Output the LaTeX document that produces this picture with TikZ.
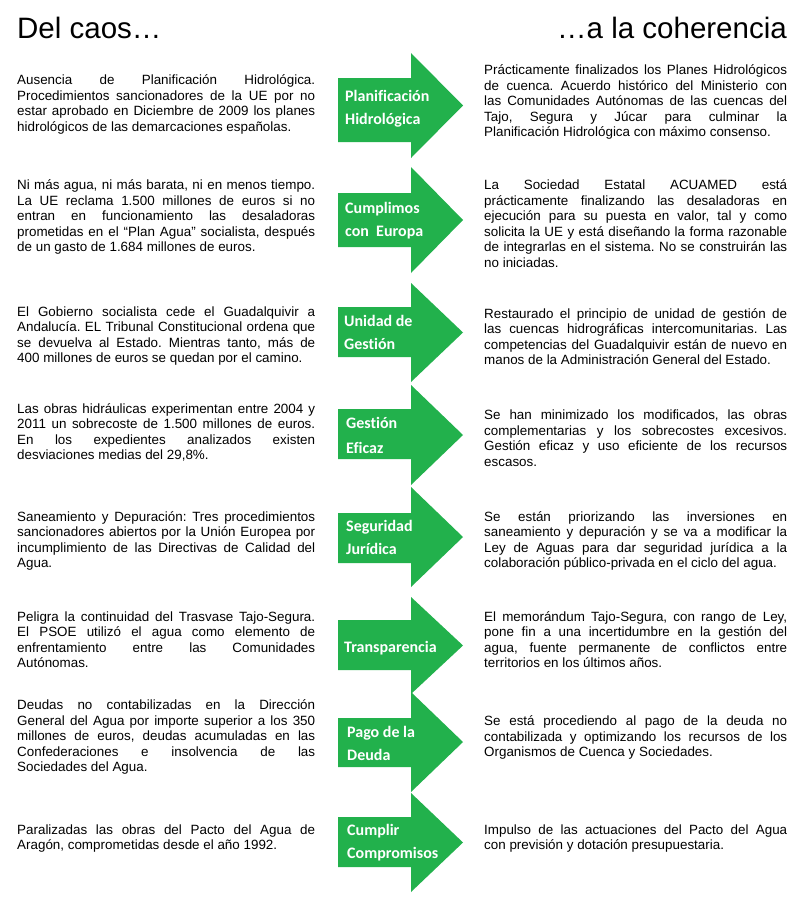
\documentclass[tikz,border=0pt]{standalone}
\usepackage{fontspec}
\setmainfont{Liberation Sans}
\newfontfamily\labfont{Carlito}[Ligatures=NoCommon]
\definecolor{arrowgreen}{RGB}{34,177,76}
\frenchspacing
\newlength\cw
\newcommand\jline[1]{\hbox to\cw{#1}}
\newcommand\lastline[1]{\hbox to\cw{#1\hfil}}
\newcommand\colL[1]{\setlength\cw{298pt}\vtop{#1}}
\newcommand\colR[1]{\setlength\cw{303pt}\vtop{#1}}
\newcommand\garrow[4]{\fill[arrowgreen] (338,#1) -- (411,#1) -- (411,#3) -- (463,{(#3+#4)/2}) -- (411,#4) -- (411,#2) -- (338,#2) -- cycle;}
\tikzset{
  bodytext/.style={anchor=base west, inner sep=0pt, font=\frenchspacing\fontsize{13.4}{15.5}\selectfont},
  arrowlabel/.style={anchor=west, inner sep=0pt, align=left, text=white, font=\labfont\bfseries\fontsize{16}{23}\selectfont},
  titletext/.style={inner sep=0pt, font=\fontsize{29.5}{34}\selectfont},
}
\begin{document}
\begin{tikzpicture}[x=1pt,y=-1pt]
\fill[white] (0,0) rectangle (801,902);
\useasboundingbox (0,0) rectangle (801,902);

\node[titletext, anchor=base west] (t1) at (17,38) {Del caos…};
\node[titletext, anchor=base east] (t2) at (787,38) {…a la coherencia};

% arrows: body top, body bottom, head top, head bottom
\garrow{78}{142}{53}{158}
\garrow{193}{247}{167}{273}
\garrow{307}{357}{283}{382}
\garrow{409}{459}{385}{485}
\garrow{513}{563}{487}{587}
\garrow{620}{670}{597}{694}
\garrow{718}{767}{692}{792}
\garrow{817}{867}{793}{892}

\node[arrowlabel] (a1) at (345,108.3) {Planificación\\Hidrológica};
\node[arrowlabel] (a2) at (345,220.5) {Cumplimos\\con~ Europa};
\node[arrowlabel] (a3) at (344,332.8) {Unidad de\\Gestión};
\node[arrowlabel] (a4) at (346,435.8) {Gestión\\[2pt]Eficaz};
\node[arrowlabel] (a5) at (346,537.7) {Seguridad\\Jurídica};
\node[arrowlabel] (a6) at (344,648.3) {Transparencia};
\node[arrowlabel] (a7) at (347,743.8) {Pago de la\\Deuda};
\node[arrowlabel] (a8) at (347,842.8) {Cumplir\\Compromisos};

% left column
\node[bodytext] (l1) at (17,84.5) {\colL{%
\jline{Ausencia de Planificación Hidrológica.}
\jline{Procedimientos sancionadores de la UE por no}
\jline{estar aprobado en Diciembre de 2009 los planes}
\lastline{hidrológicos de las demarcaciones españolas.}}};
\node[bodytext] (l2) at (17,189.5) {\colL{%
\jline{Ni más agua, ni más barata, ni en menos tiempo.}
\jline{La UE reclama 1.500 millones de euros si no}
\jline{entran en funcionamiento las desaladoras}
\jline{prometidas en el “Plan Agua” socialista, después}
\lastline{de un gasto de 1.684 millones de euros.}}};
\node[bodytext] (l3) at (17,316) {\colL{%
\jline{El Gobierno socialista cede el Guadalquivir a}
\jline{Andalucía. EL Tribunal Constitucional ordena que}
\jline{se devuelva al Estado. Mientras tanto, más de}
\lastline{400 millones de euros se quedan por el camino.}}};
\node[bodytext] (l4) at (17,413) {\colL{%
\jline{Las obras hidráulicas experimentan entre 2004 y}
\jline{2011 un sobrecoste de 1.500 millones de euros.}
\jline{En los expedientes analizados existen}
\lastline{desviaciones medias del 29,8\%.}}};
\node[bodytext] (l5) at (17,521) {\colL{%
\jline{Saneamiento y Depuración: Tres procedimientos}
\jline{sancionadores abiertos por la Unión Europea por}
\jline{incumplimiento de las Directivas de Calidad del}
\lastline{Agua.}}};
\node[bodytext] (l6) at (17,621) {\colL{%
\jline{Peligra la continuidad del Trasvase Tajo-Segura.}
\jline{El PSOE utilizó el agua como elemento de}
\jline{enfrentamiento entre las Comunidades}
\lastline{Autónomas.}}};
\node[bodytext] (l7) at (17,709.5) {\colL{%
\jline{Deudas no contabilizadas en la Dirección}
\jline{General del Agua por importe superior a los 350}
\jline{millones de euros, deudas acumuladas en las}
\jline{Confederaciones e insolvencia de las}
\lastline{Sociedades del Agua.}}};
\node[bodytext] (l8) at (17,834) {\colL{%
\jline{Paralizadas las obras del Pacto del Agua de}
\lastline{Aragón, comprometidas desde el año 1992.}}};

% right column
\node[bodytext] (r1) at (484,74.5) {\colR{%
\jline{Prácticamente finalizados los Planes Hidrológicos}
\jline{de cuenca. Acuerdo histórico del Ministerio con}
\jline{las Comunidades Autónomas de las cuencas del}
\jline{Tajo, Segura y Júcar para culminar la}
\lastline{Planificación Hidrológica con máximo consenso.}}};
\node[bodytext] (r2) at (484,189.5) {\colR{%
\jline{La Sociedad Estatal ACUAMED está}
\jline{prácticamente finalizando las desaladoras en}
\jline{ejecución para su puesta en valor, tal y como}
\jline{solicita la UE y está diseñando la forma razonable}
\jline{de integrarlas en el sistema. No se construirán las}
\lastline{no iniciadas.}}};
\node[bodytext] (r3) at (484,318) {\colR{%
\jline{Restaurado el principio de unidad de gestión de}
\jline{las cuencas hidrográficas intercomunitarias. Las}
\jline{competencias del Guadalquivir están de nuevo en}
\lastline{manos de la Administración General del Estado.}}};
\node[bodytext] (r4) at (484,419.5) {\colR{%
\jline{Se han minimizado los modificados, las obras}
\jline{complementarias y los sobrecostes excesivos.}
\jline{Gestión eficaz y uso eficiente de los recursos}
\lastline{escasos.}}};
\node[bodytext] (r5) at (484,521) {\colR{%
\jline{Se están priorizando las inversiones en}
\jline{saneamiento y depuración y se va a modificar la}
\jline{Ley de Aguas para dar seguridad jurídica a la}
\lastline{colaboración público-privada en el ciclo del agua.}}};
\node[bodytext] (r6) at (484,621) {\colR{%
\jline{El memorándum Tajo-Segura, con rango de Ley,}
\jline{pone fin a una incertidumbre en la gestión del}
\jline{agua, fuente permanente de conflictos entre}
\lastline{territorios en los últimos años.}}};
\node[bodytext] (r7) at (484,725.5) {\colR{%
\jline{Se está procediendo al pago de la deuda no}
\jline{contabilizada y optimizando los recursos de los}
\lastline{Organismos de Cuenca y Sociedades.}}};
\node[bodytext] (r8) at (484,834) {\colR{%
\jline{Impulso de las actuaciones del Pacto del Agua}
\lastline{con previsión y dotación presupuestaria.}}};
\end{tikzpicture}
\end{document}
